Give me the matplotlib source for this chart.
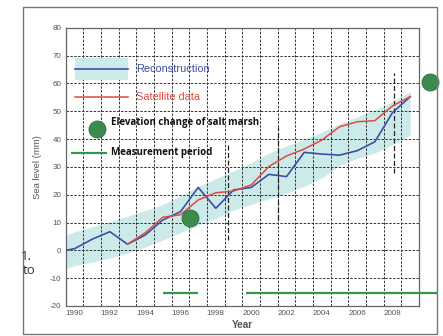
import matplotlib
matplotlib.use("Agg")
import matplotlib.pyplot as plt
from matplotlib.patches import Rectangle

# ---- data ----
years = [1989.5, 1990, 1991, 1992, 1993, 1994, 1995, 1996, 1997, 1998, 1999,
         2000, 2001, 2002, 2003, 2004, 2005, 2006, 2007, 2008, 2009]
reconstruction = [0.0, 0.6, 4.0, 6.7, 2.2, 5.5, 10.9, 13.9, 22.6, 15.1, 21.7,
                  22.6, 27.3, 26.5, 35.2, 34.6, 34.2, 35.8, 39.0, 49.5, 55.2]
sat_years = [1993, 1994, 1995, 1996, 1997, 1998, 1999, 2000, 2001, 2002, 2003,
             2004, 2005, 2006, 2007, 2008, 2009]
satellite = [2.2, 6.3, 11.9, 12.8, 18.1, 20.7, 21.3, 23.5, 30.1, 33.9, 36.4,
             39.6, 44.4, 46.2, 46.6, 51.9, 55.2]
band_upper = [5.5, 6.6, 8.5, 10.3, 12.3, 14.3, 16.5, 19.5, 23.0, 25.8, 28.5,
              31.5, 35.0, 37.5, 40.0, 42.5, 45.5, 48.0, 50.5, 53.5, 57.0]
band_lower = [-6.5, -5.5, -4.2, -2.8, -1.0, 1.2, 3.7, 6.4, 9.1, 11.5, 14.5,
              16.5, 18.5, 20.5, 23.0, 26.0, 30.5, 33.0, 35.0, 38.0, 41.4]

# annotation marks (salt marsh elevation points and measurement periods)
marsh_x = [1996.55, 2010.15]
marsh_y = [11.7, 60.6]
period_starts = [1995.0, 1999.7]
period_ends = [1997.0, 2010.55]
period_level = -15.4
vmark_x = [1998.7, 2001.5, 2008.1]
vmark_lo = [3.6, 10.8, 27.7]
vmark_hi = [38.5, 44.3, 63.7]

xtick_years = list(range(1990, 2009, 2))
yticks = list(range(-20, 81, 10))
grid_x = [y + 0.5 for y in range(1990, 2009)]

# ---- colours ----
c_band = "#cdeaea"
c_blue = "#3d4ea6"
c_red = "#e04a3c"
c_green = "#2f9a4c"
c_dot = "#3c8a4c"
c_grid = "#333333"

fig = plt.figure(figsize=(4.43, 3.36), dpi=100)
fig.patch.set_facecolor("white")
fig.patches.append(Rectangle((22.7 / 443, 1 - 333.5 / 336), (437 - 22.7) / 443,
                             (333.5 - 7.3) / 336, transform=fig.transFigure,
                             fill=False, edgecolor="#777777", linewidth=1.0))

ax = fig.add_axes([65.7 / 443, 1 - 306 / 336, (419 - 65.7) / 443, (306 - 27.7) / 336])
ax.set_xlim(1989.5, 2009.5)
ax.set_ylim(-20, 80)

ax.fill_between(years, band_lower, band_upper, color=c_band, linewidth=0, zorder=1)

for gx in grid_x:
    ax.axvline(gx, color=c_grid, lw=0.7, ls=(0, (2.5, 1.5)), zorder=2)
for gy in yticks[1:-1]:
    ax.axhline(gy, color=c_grid, lw=0.7, ls=(0, (2.5, 1.5)), zorder=2)

for x, lo, hi in zip(vmark_x, vmark_lo, vmark_hi):
    ax.plot([x, x], [lo, hi], color="#222222", lw=0.9, ls=(0, (4, 2)), zorder=3)

ax.plot(years, reconstruction, color=c_blue, lw=1.2, zorder=4)
ax.plot(sat_years, satellite, color=c_red, lw=1.1, zorder=5)

ax.scatter(marsh_x, marsh_y, s=150, color=c_dot, edgecolor="#2d7040", lw=0.6,
           zorder=6, clip_on=False)
for s, e in zip(period_starts, period_ends):
    ax.plot([s, e], [period_level, period_level], color=c_green, lw=1.6,
            zorder=6, clip_on=False, solid_capstyle="butt")

# legend-like key
ax.add_patch(Rectangle((1990.03, 61.2), 2.97, 7.9, facecolor=c_band,
                       edgecolor="none", zorder=3))
ax.plot([1990.03, 1993.0], [65.0, 65.0], color=c_blue, lw=1.2, zorder=4)
ax.text(1993.5, 65.0, "Reconstruction", color=c_blue, fontsize=7.9,
        family="Liberation Sans", va="center", ha="left", zorder=5)
ax.plot([1990.03, 1993.0], [55.0, 55.0], color=c_red, lw=1.1, zorder=4)
ax.text(1993.5, 55.0, "Satellite data", color=c_red, fontsize=7.9,
        family="Liberation Sans", va="center", ha="left", zorder=5)
ax.scatter([1991.26], [43.6], s=150, color=c_dot, edgecolor="#2d7040", lw=0.6, zorder=6)
ax.text(1992.07, 46.0, "Elevation change of salt marsh", color="#111111",
        fontsize=7.0, family="Open Sans", weight="bold", va="center", ha="left", zorder=5)
ax.plot([1989.78, 1991.82], [35.1, 35.1], color=c_green, lw=1.6, zorder=6,
        clip_on=False, solid_capstyle="butt")
ax.text(1992.07, 35.1, "Measurement period", color="#111111",
        fontsize=7.0, family="Open Sans", weight="bold", va="center", ha="left", zorder=5)

# ticks
ax.set_xticks(xtick_years)
ax.set_xticklabels([str(y) for y in xtick_years])
ax.set_yticks(yticks)
ax.set_yticklabels([str(y) for y in yticks])
ax.tick_params(axis="both", length=0, labelsize=5.8, labelcolor="#555555", pad=3)
for lab in ax.get_xticklabels() + ax.get_yticklabels():
    lab.set_family("Liberation Sans")
for sp in ax.spines.values():
    sp.set_color("#666666")
    sp.set_linewidth(0.9)

ax.set_xlabel("Year", fontsize=7.2, color="#555555", family="Liberation Sans",
              weight="bold", labelpad=2)
ax.set_ylabel("Sea level (mm)", fontsize=6.8, color="#555555",
              family="Liberation Sans", labelpad=6)

fig.text(21.0 / 443, 1 - 256 / 336, "1.", fontsize=9.5, family="Open Sans",
         color="#333333", va="center", ha="left")
fig.text(23.0 / 443, 1 - 271 / 336, "to", fontsize=9.5, family="Open Sans",
         color="#333333", va="center", ha="left")

fig.savefig("out.png", dpi=100)
